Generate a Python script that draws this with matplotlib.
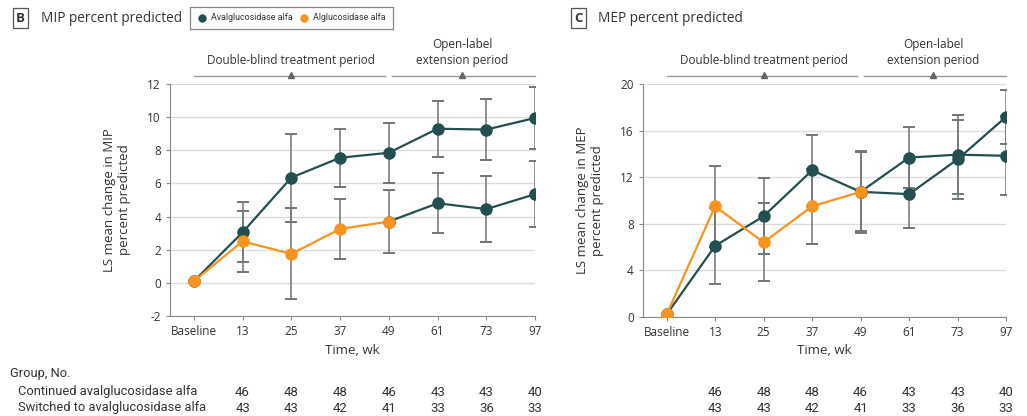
import numpy as np
import matplotlib
matplotlib.use("Agg")
from matplotlib import pyplot as plt
from matplotlib import transforms

plt.rcParams['font.family'] = ['Open Sans', 'DejaVu Sans']
plt.rcParams['axes.unicode_minus'] = False

weeks = ['Baseline', '13', '25', '37', '49', '61', '73', '97']

# MIP percent predicted (panel B)
mip_cont = [0.1, 3.05, 6.35, 7.55, 7.85, 9.3, 9.25, 9.95]
mip_cont_err = [0, 1.8, 2.65, 1.75, 1.8, 1.7, 1.85, 1.85]
mip_switch = [0.1, 2.5, 1.75, 3.25, 3.7, 4.8, 4.45, 5.35]
mip_switch_err = [0, 1.85, 2.75, 1.8, 1.9, 1.8, 2.0, 2.0]

# MEP percent predicted (panel C)
mep_cont = [0.2, 6.1, 8.65, 12.6, 10.75, 13.7, 13.95, 13.85]
mep_cont_err = [0, 3.3, 3.25, 3.05, 3.4, 2.65, 3.4, 3.4]
mep_switch = [0.2, 9.5, 6.4, 9.5, 10.75, 10.55, 13.55, 17.2]
mep_switch_err = [0, 3.5, 3.35, 3.2, 3.55, 2.9, 3.4, 2.35]

n_cont = [46, 48, 48, 46, 43, 43, 40]
n_switch = [43, 43, 42, 41, 33, 36, 33]

teal = '#234f50'
orange = '#f7941d'
bar_grey = '#6f7777'
txt = '#333333'
narrow = ['Roboto', 'DejaVu Sans']

fig = plt.figure(figsize=(10.27, 4.16), dpi=100)
axB = fig.add_axes([0.1655, 0.2404, 0.3555, 0.5577])
axC = fig.add_axes([0.626, 0.2387, 0.3536, 0.5585])


def errbars(ax, x, y, e, capcol):
    eb = ax.errorbar(x, y, yerr=e, fmt='none', ecolor=bar_grey, elinewidth=1.1,
                     capsize=4.2, capthick=1.4, zorder=2)
    for c in eb[1]:
        c.set_color(capcol)


def panel(ax, cont, cont_e, sw, sw_e, ylim, yticks, ylabel):
    x = np.arange(len(weeks))
    # error bars
    errbars(ax, x[1:], cont[1:], cont_e[1:], bar_grey)
    errbars(ax, x[1:5], sw[1:5], sw_e[1:5], orange)
    errbars(ax, x[5:], sw[5:], sw_e[5:], bar_grey)
    # lines
    ax.plot(x, cont, color=teal, lw=1.6, marker='o', ms=8, zorder=3)
    ax.plot(x[4:], sw[4:], color=teal, lw=1.6, marker='o', ms=8, zorder=3)
    ax.plot(x[:5], sw[:5], color=orange, lw=1.6, marker='o', ms=8, zorder=4)

    ax.set_xlim(-0.49, 7)
    ax.set_ylim(*ylim)
    ax.set_yticks(yticks)
    ax.set_xticks(x)
    ax.set_xticklabels(weeks)
    ax.yaxis.grid(True, color='#dcdcdc', lw=1)
    ax.set_axisbelow(True)
    for s in ['top', 'right']:
        ax.spines[s].set_visible(False)
    for s in ['left', 'bottom']:
        ax.spines[s].set_color('#888888')
    ax.tick_params(colors='#888888', labelcolor=txt, labelsize=8.5, length=3)
    ax.set_xlabel('Time, wk', fontsize=9.5, color=txt, labelpad=4)
    ax.set_ylabel(ylabel, fontsize=9.5, color=txt, labelpad=12)

    # period annotations
    tr = transforms.blended_transform_factory(ax.transData, ax.transAxes)
    ax.plot([0, 3.93], [1.034, 1.034], color='#999999', lw=1, transform=tr, clip_on=False)
    ax.plot([4.07, 7.0], [1.034, 1.034], color='#999999', lw=1, transform=tr, clip_on=False)
    ax.plot([2, 5.5], [1.04, 1.04], ls='none', marker='^', ms=4, color='#666666',
            transform=tr, clip_on=False)
    ax.text(2, 1.075, 'Double-blind treatment period', ha='center', va='bottom',
            fontsize=8.5, color=txt, transform=tr)
    ax.text(5.5, 1.075, 'Open-label\nextension period', ha='center', va='bottom',
            fontsize=8.5, color=txt, transform=tr, linespacing=1.3)

    # number at risk table
    trf = transforms.blended_transform_factory(ax.transData, fig.transFigure)
    for i in range(len(n_cont)):
        ax.text(x[i + 1], 1 - 392 / 416, str(n_cont[i]), ha='center', va='center',
                fontsize=9.5, color=txt, family=narrow, transform=trf)
        ax.text(x[i + 1], 1 - 408 / 416, str(n_switch[i]), ha='center', va='center',
                fontsize=9.5, color=txt, family=narrow, transform=trf)


panel(axB, mip_cont, mip_cont_err, mip_switch, mip_switch_err, (-2, 12),
      np.arange(-2, 13, 2), 'LS mean change in MIP\npercent predicted')
panel(axC, mep_cont, mep_cont_err, mep_switch, mep_switch_err, (0, 20),
      np.arange(0, 21, 4), 'LS mean change in MEP\npercent predicted')

fig.text(10 / 1027, 1 - 374 / 416, 'Group, No.', fontsize=9.3, color=txt, family=narrow, va='center')
fig.text(18 / 1027, 1 - 392 / 416, 'Continued avalglucosidase alfa', fontsize=9.3, color=txt,
         family=narrow, va='center')
fig.text(18 / 1027, 1 - 408 / 416, 'Switched to avalglucosidase alfa', fontsize=9.3, color=txt,
         family=narrow, va='center')

# panel titles
box = dict(boxstyle='square,pad=0.25', fc='white', ec='#555555', lw=0.9)
fig.text(16 / 1027, 1 - 18 / 416, 'B', fontsize=9.5, weight='bold', color=txt, va='center', bbox=box)
fig.text(41 / 1027, 1 - 18 / 416, 'MIP percent predicted', fontsize=9.8, color=txt, va='center')
fig.text(574 / 1027, 1 - 18 / 416, 'C', fontsize=9.5, weight='bold', color=txt, va='center', bbox=box)
fig.text(598 / 1027, 1 - 18 / 416, 'MEP percent predicted', fontsize=9.8, color=txt, va='center')

# legend
leg = fig.add_axes([190 / 1027, 1 - 29 / 416, 203 / 1027, 22 / 416])
leg.set_xlim(0, 203)
leg.set_ylim(0, 22)
leg.set_xticks([])
leg.set_yticks([])
for s in leg.spines.values():
    s.set_color('#888888')
    s.set_linewidth(0.9)
leg.plot([12], [11], 'o', color=teal, ms=5)
leg.text(21, 11, 'Avalglucosidase alfa', va='center', fontsize=6.4, color=txt, family=narrow)
leg.plot([114], [11], 'o', color=orange, ms=5)
leg.text(123, 11, 'Alglucosidase alfa', va='center', fontsize=6.4, color=txt, family=narrow)

plt.savefig('out.png', dpi=100)
